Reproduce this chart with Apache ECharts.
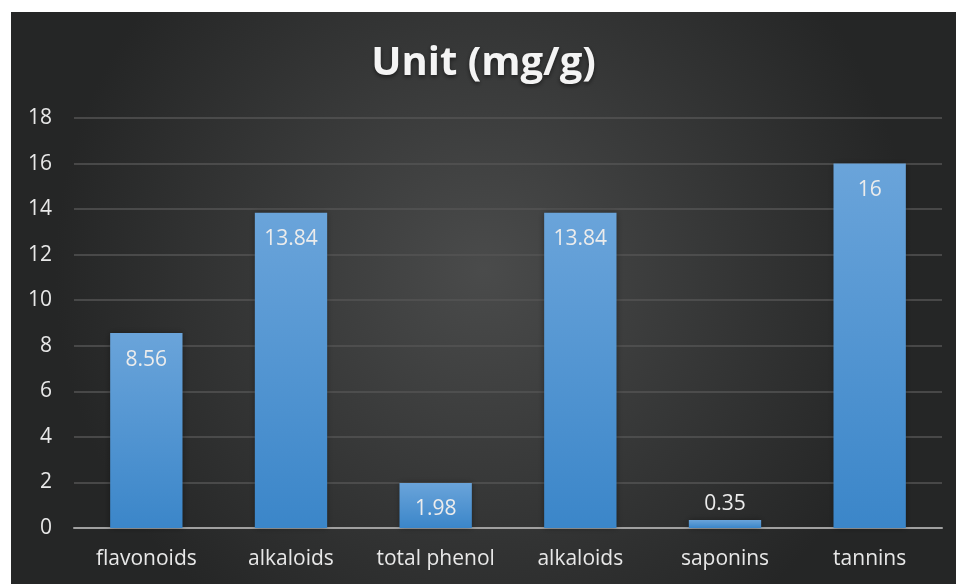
<!DOCTYPE html>
<html>
<head>
<meta charset="utf-8">
<script src="https://cdn.jsdelivr.net/npm/echarts@6/dist/echarts.min.js"></script>
<style>
  html, body { margin: 0; padding: 0; background: #fff; }
  #chart { position: absolute; left: 11px; top: 12px; width: 945px; height: 572px; }
</style>
</head>
<body>
<div id="chart"></div>
<script>
// data
const categories = ['flavonoids', 'alkaloids', 'total phenol', 'alkaloids', 'saponins', 'tannins'];
const values = [8.56, 13.84, 1.98, 13.84, 0.35, 16];
const labelPositions = ['insideTop', 'insideTop', 'insideTop', 'insideTop', 'top', 'insideTop'];

const chart = echarts.init(document.getElementById('chart'));

chart.setOption({
  backgroundColor: {
    type: 'radial', x: 0.5, y: 0.45, r: 0.75,
    colorStops: [
      { offset: 0, color: '#4a4b4b' },
      { offset: 1, color: '#252626' }
    ]
  },
  title: {
    text: 'Unit (mg/g)',
    left: 'center',
    top: 27,
    textStyle: {
      color: '#f4f4f4',
      fontSize: 40,
      fontWeight: 'bold',
      fontFamily: 'Open Sans',
      textShadowColor: 'rgba(0,0,0,0.5)',
      textShadowBlur: 4,
      textShadowOffsetY: 2
    }
  },
  grid: { left: 63, right: 14, top: 106, bottom: 56 },
  xAxis: {
    type: 'category',
    data: categories,
    axisLine: { lineStyle: { color: '#a0a0a0', width: 2 } },
    axisTick: { show: false },
    axisLabel: { color: '#e8e8e8', fontSize: 21, fontFamily: 'Open Sans', margin: 21, interval: 0 }
  },
  yAxis: {
    type: 'value',
    min: 0, max: 18, interval: 2,
    axisLine: { show: false },
    axisTick: { show: false },
    splitLine: { lineStyle: { color: '#555555', width: 1.5 } },
    axisLabel: { color: '#e8e8e8', fontSize: 21, fontFamily: 'Open Sans', margin: 22 }
  },
  series: [{
    type: 'bar',
    data: values.map((v, i) => ({
      value: v,
      // 太矮的柱子标签放在外面
      label: { position: labelPositions[i], distance: labelPositions[i] === 'top' ? 6 : 16 }
    })),
    barCategoryGap: '50%',
    itemStyle: {
      color: {
        type: 'linear', x: 0, y: 0, x2: 0, y2: 1,
        colorStops: [
          { offset: 0, color: '#6aa4da' },
          { offset: 1, color: '#3b86c9' }
        ]
      },
      shadowColor: 'rgba(0,0,0,0.35)',
      shadowBlur: 6
    },
    label: {
      show: true,
      color: '#ececec',
      fontSize: 21,
      fontFamily: 'Open Sans'
    }
  }]
});
</script>
</body>
</html>
